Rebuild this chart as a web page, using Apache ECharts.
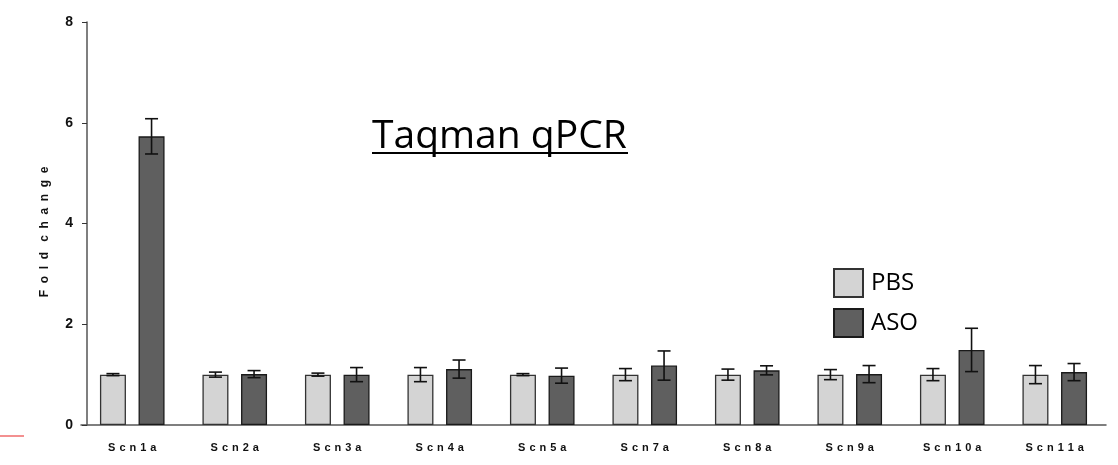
<!DOCTYPE html>
<html>
<head>
<meta charset="utf-8">
<script src="https://cdn.jsdelivr.net/npm/echarts@6/dist/echarts.min.js"></script>
<style>
  html, body { margin: 0; padding: 0; background: #fff; }
  #chart { width: 1118px; height: 465px; }
</style>
</head>
<body>
<div id="chart"></div>
<script>
const categories = ['Scn1a', 'Scn2a', 'Scn3a', 'Scn4a', 'Scn5a', 'Scn7a', 'Scn8a', 'Scn9a', 'Scn10a', 'Scn11a']
const pbsMean = [1.0, 1.0, 1.0, 1.0, 1.0, 1.0, 1.0, 1.0, 1.0, 1.0]
const pbsErr = [0.02, 0.05, 0.03, 0.14, 0.02, 0.12, 0.11, 0.1, 0.12, 0.18]
const asoMean = [5.73, 1.01, 1.0, 1.11, 0.98, 1.18, 1.085, 1.01, 1.49, 1.05]
const asoErr = [0.35, 0.07, 0.14, 0.18, 0.15, 0.29, 0.09, 0.17, 0.43, 0.17]
const yTicks = [0, 2, 4, 6, 8]

const BAR_W = 26
const BAR_GAP = 12.6

// spread letters out like the original figure
const spaced = (s, sep) => s.split('').join(sep)

const chart = echarts.init(document.getElementById('chart'))

function errorSeries(name, means, errs, side) {
  return {
    name: name + ' err',
    type: 'custom',
    z: 5,
    silent: true,
    data: means.map((m, i) => [i, m - errs[i], m + errs[i]]),
    renderItem: (params, api) => {
      const lo = api.coord([api.value(0), api.value(1)])
      const hi = api.coord([api.value(0), api.value(2)])
      const x = lo[0] + side * (BAR_W + BAR_GAP) / 2
      const cap = 6.5
      const style = { stroke: '#111', lineWidth: 1.6 }
      return {
        type: 'group',
        children: [
          { type: 'line', shape: { x1: x, y1: hi[1], x2: x, y2: lo[1] }, style },
          { type: 'line', shape: { x1: x - cap, y1: hi[1], x2: x + cap, y2: hi[1] }, style },
          { type: 'line', shape: { x1: x - cap, y1: lo[1], x2: x + cap, y2: lo[1] }, style },
        ],
      }
    },
  }
}

chart.setOption({
  animation: false,
  grid: { left: 81, top: 22, width: 1025, bottom: 40 },
  legend: {
    data: ['PBS', 'ASO'],
    orient: 'vertical',
    left: 828,
    top: 263,
    icon: 'rect',
    itemWidth: 29,
    itemHeight: 28,
    itemGap: 10,
    textStyle: { fontFamily: 'Open Sans', fontSize: 24, color: '#000', padding: [0, 0, 0, 3] },
  },
  xAxis: {
    type: 'category',
    data: categories,
    axisLine: { lineStyle: { color: '#555', width: 1.5 } },
    axisTick: { alignWithLabel: true, length: 5, lineStyle: { color: '#333' } },
    axisLabel: {
      margin: 17,
      fontFamily: 'Liberation Sans',
      fontWeight: 'bold',
      fontSize: 11,
      color: '#111',
      formatter: v => spaced(v, ' \u200A'),
    },
  },
  yAxis: {
    type: 'value',
    min: 0,
    max: 8,
    interval: 2,
    offset: -6,
    name: 'Fold change'.split(' ').map(w => spaced(w, '  ')).join('   ') + '     ',
    nameLocation: 'middle',
    nameGap: 36,
    nameTextStyle: { fontFamily: 'Liberation Sans', fontWeight: 'bold', fontSize: 12, color: '#111' },
    axisLine: { show: true, lineStyle: { color: '#555', width: 1.5 } },
    axisTick: { show: true, length: 5, lineStyle: { color: '#333' } },
    splitLine: { show: false },
    axisLabel: {
      margin: 14,
      padding: [6, 0, 0, 0],
      fontFamily: 'Liberation Sans',
      fontWeight: 'bold',
      fontSize: 14,
      color: '#111',
      formatter: v => (yTicks.includes(v) ? String(v) : ''),
    },
  },
  series: [
    {
      name: 'PBS',
      type: 'bar',
      barWidth: BAR_W,
      barGap: (BAR_GAP / BAR_W) * 100 + '%',
      data: pbsMean,
      itemStyle: { color: '#d4d4d4', borderColor: '#333', borderWidth: 1.3 },
    },
    {
      name: 'ASO',
      type: 'bar',
      barWidth: BAR_W,
      data: asoMean,
      itemStyle: { color: '#5f5f5f', borderColor: '#1a1a1a', borderWidth: 1.3 },
    },
    errorSeries('PBS', pbsMean, pbsErr, -1),
    errorSeries('ASO', asoMean, asoErr, 1),
  ],
  graphic: [
    {
      type: 'text',
      style: {
        x: 372,
        y: 117,
        text: 'Taqman qPCR',
        verticalAlign: 'top',
        fontFamily: 'Open Sans',
        fontSize: 39,
        fill: '#000',
      },
    },
    {
      type: 'line',
      shape: { x1: 372, y1: 153, x2: 628, y2: 153 },
      style: { stroke: '#000', lineWidth: 2 },
    },
    {
      type: 'line',
      shape: { x1: 0, y1: 436, x2: 24, y2: 436 },
      style: { stroke: '#ef6b6b', lineWidth: 1.5 },
    },
  ],
})
</script>
</body>
</html>
